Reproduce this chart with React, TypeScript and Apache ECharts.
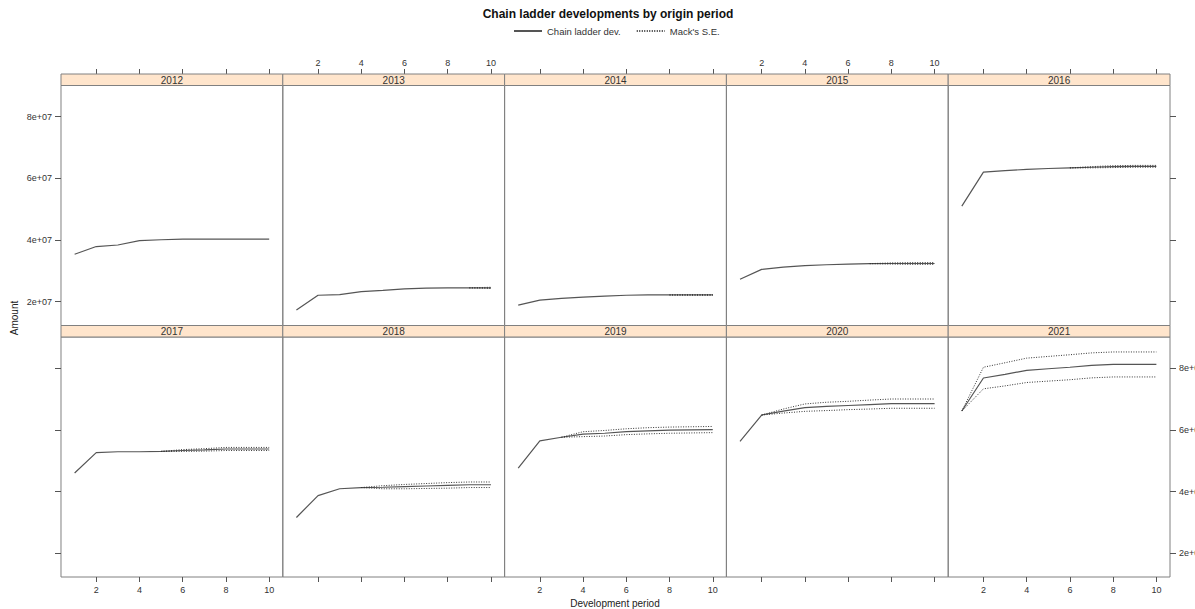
import React, { useEffect, useRef } from "react";
import * as echarts from "echarts";

// ---- data ----
const originYears = ["2012", "2013", "2014", "2015", "2016", "2017", "2018", "2019", "2020", "2021"];
const devPeriods = [1, 2, 3, 4, 5, 6, 7, 8, 9, 10];

// Chain ladder developments (full triangle incl. projections), one row per origin year
const clValues = [
  [35400000, 37900000, 38400000, 39800000, 40100000, 40300000, 40300000, 40300000, 40300000, 40300000],
  [17300000, 22100000, 22300000, 23300000, 23700000, 24200000, 24400000, 24500000, 24500000, 24500000],
  [18900000, 20500000, 21100000, 21500000, 21800000, 22100000, 22200000, 22200000, 22200000, 22200000],
  [27300000, 30500000, 31200000, 31700000, 32000000, 32200000, 32350000, 32400000, 32400000, 32400000],
  [51000000, 62000000, 62500000, 62900000, 63200000, 63400000, 63600000, 63800000, 63900000, 63900000],
  [46000000, 52600000, 52900000, 52900000, 53000000, 53300000, 53500000, 53800000, 53800000, 53800000],
  [31600000, 38700000, 40900000, 41300000, 41400000, 41600000, 41800000, 42000000, 42200000, 42200000],
  [47600000, 56450000, 57600000, 58600000, 58900000, 59400000, 59700000, 59900000, 60000000, 60100000],
  [56300000, 64800000, 66100000, 67200000, 67600000, 67900000, 68200000, 68500000, 68500000, 68500000],
  [66100000, 76800000, 78000000, 79300000, 79800000, 80300000, 80900000, 81200000, 81200000, 81200000],
];

// Mack's standard errors (null = observed part of the triangle, before the latest diagonal)
const seValues: (number | null)[][] = [
  [null, null, null, null, null, null, null, null, null, null],
  [null, null, null, null, null, null, null, null, 0, 200000],
  [null, null, null, null, null, null, null, 0, 100000, 100000],
  [null, null, null, null, null, null, 0, 200000, 300000, 300000],
  [null, null, null, null, null, 0, 200000, 300000, 300000, 300000],
  [null, null, null, null, 0, 300000, 400000, 500000, 500000, 500000],
  [null, null, null, 0, 500000, 700000, 800000, 900000, 900000, 900000],
  [null, null, 0, 800000, 900000, 950000, 1000000, 1000000, 1000000, 1000000],
  [null, 0, 650000, 1200000, 1350000, 1350000, 1450000, 1500000, 1500000, 1500000],
  [0, 3500000, 3750000, 3950000, 4000000, 4050000, 4050000, 4050000, 4050000, 4050000],
];

const xTickValues = [2, 4, 6, 8, 10];
const yTickValues = [20000000, 40000000, 60000000, 80000000];
const yTickLabels = ["2e+07", "4e+07", "6e+07", "8e+07"];

const seriesNames = ["Chain ladder dev.", "Mack's S.E."];
const chartTitle = "Chain ladder developments by origin period";
const xTitle = "Development period";
const yTitle = "Amount";

// ---- layout ----
const W = 1195;
const H = 609;
const PANEL_LEFT = 61;
const PANEL_W = 221.8;
const STRIP_H = 11.5;
const ROW_STRIP_TOP = [74, 325.5];
const PANEL_H = 240;
const FONT = "'Liberation Sans', Arial, sans-serif";
const X_MIN = 0.37;
const X_MAX = 10.63;
const Y_MIN = 12300000;
const Y_MAX = 90100000;

export default function App() {
  const ref = useRef<HTMLDivElement>(null);

  useEffect(() => {
    if (!ref.current) return;
    const chart = echarts.init(ref.current, null, { renderer: "svg" });

    const grids: any[] = [];
    const xAxes: any[] = [];
    const yAxes: any[] = [];
    const series: any[] = [];
    const graphics: any[] = [];

    originYears.forEach((year, i) => {
      const row = Math.floor(i / 5);
      const col = i % 5;
      const left = PANEL_LEFT + col * PANEL_W;
      const stripTop = ROW_STRIP_TOP[row];
      const top = stripTop + STRIP_H;

      grids.push({
        left,
        top,
        width: PANEL_W,
        height: PANEL_H,
        show: true,
        borderColor: "#808080",
        borderWidth: 1,
        backgroundColor: "transparent",
        containLabel: false,
        outerBoundsMode: "none",
      });

      const showXLabels = row === 0 ? col % 2 === 1 : col % 2 === 0;
      xAxes.push({
        type: "value",
        gridIndex: i,
        min: X_MIN,
        max: X_MAX,
        position: row === 0 ? "top" : "bottom",
        offset: row === 0 ? STRIP_H : 0,
        axisLine: { show: false },
        splitLine: { show: false },
        axisTick: {
          show: true,
          length: 5,
          customValues: xTickValues,
          lineStyle: { color: "#555", width: 1 },
        },
        axisLabel: {
          show: showXLabels,
          customValues: xTickValues,
          fontSize: 9,
          fontFamily: FONT,
          color: "#333",
          margin: row === 0 ? 7 : 8,
        },
      });

      const isEdge = col === 0 || col === 4;
      const showYLabels = (col === 0 && row === 0) || (col === 4 && row === 1);
      yAxes.push({
        type: "value",
        gridIndex: i,
        min: Y_MIN,
        max: Y_MAX,
        show: isEdge,
        position: col === 4 ? "right" : "left",
        axisLine: { show: false },
        splitLine: { show: false },
        axisTick: {
          show: isEdge,
          length: 6,
          customValues: yTickValues,
          lineStyle: { color: "#555", width: 1 },
        },
        axisLabel: {
          show: showYLabels,
          customValues: yTickValues,
          formatter: (v: number) => {
            const k = yTickValues.indexOf(v);
            return k >= 0 ? yTickLabels[k] : "";
          },
          fontSize: 9,
          fontFamily: FONT,
          color: "#333",
          margin: 9,
        },
      });

      const cl = clValues[i];
      const se = seValues[i];
      series.push({
        name: seriesNames[0],
        type: "line",
        xAxisIndex: i,
        yAxisIndex: i,
        data: devPeriods.map((d, j) => [d, cl[j]]),
        symbol: "none",
        lineStyle: { color: "#555", width: 1.2, type: "solid" },
        itemStyle: { color: "#555" },
        z: 3,
      });

      const upper = devPeriods
        .map((d, j) => (se[j] == null ? null : [d, cl[j] + (se[j] as number)]))
        .filter((p) => p !== null);
      const lower = devPeriods
        .map((d, j) => (se[j] == null ? null : [d, cl[j] - (se[j] as number)]))
        .filter((p) => p !== null);
      [upper, lower].forEach((pts) => {
        if (pts.length === 0) return;
        series.push({
          name: seriesNames[1],
          type: "line",
          xAxisIndex: i,
          yAxisIndex: i,
          data: pts,
          symbol: "none",
          lineStyle: { color: "#333", width: 1, type: [1, 1.5] },
          itemStyle: { color: "#333" },
          z: 4,
        });
      });

      // strip
      graphics.push({
        type: "rect",
        shape: { x: left, y: stripTop, width: PANEL_W, height: STRIP_H },
        style: { fill: "#ffe5cc", stroke: "#808080", lineWidth: 1 },
        z: 10,
      });
      graphics.push({
        type: "text",
        x: left + PANEL_W / 2,
        y: stripTop + STRIP_H / 2 + 0.5,
        style: {
          text: year,
          fill: "#333",
          font: `10px ${FONT}`,
          align: "center",
          verticalAlign: "middle",
        },
        z: 11,
      });
    });

    graphics.push({
      type: "text",
      x: 615,
      y: 603,
      style: {
        text: xTitle,
        fill: "#222",
        font: `10px ${FONT}`,
        align: "center",
        verticalAlign: "middle",
      },
    });
    graphics.push({
      type: "text",
      x: 14,
      y: 318,
      rotation: Math.PI / 2,
      style: {
        text: yTitle,
        fill: "#222",
        font: `10px ${FONT}`,
        align: "center",
        verticalAlign: "middle",
      },
    });

    chart.setOption({
      animation: false,
      backgroundColor: "#ffffff",
      title: {
        text: chartTitle,
        left: 608,
        top: 8,
        textAlign: "center",
        padding: 0,
        textStyle: { fontSize: 12, fontWeight: "bold", fontFamily: FONT, color: "#111" },
      },
      legend: {
        data: seriesNames,
        left: 513,
        top: 26,
        padding: 0,
        itemWidth: 28,
        itemHeight: 12,
        itemGap: 15,
        itemStyle: { opacity: 0, borderWidth: 0 },
        textStyle: { fontSize: 9.5, fontFamily: FONT, color: "#333" },
      },
      grid: grids,
      xAxis: xAxes,
      yAxis: yAxes,
      series,
      graphic: graphics,
    });

    return () => chart.dispose();
  }, []);

  return (
    <div
      ref={ref}
      style={{ position: "absolute", left: 0, top: 0, width: W, height: H, background: "#fff" }}
    />
  );
}
